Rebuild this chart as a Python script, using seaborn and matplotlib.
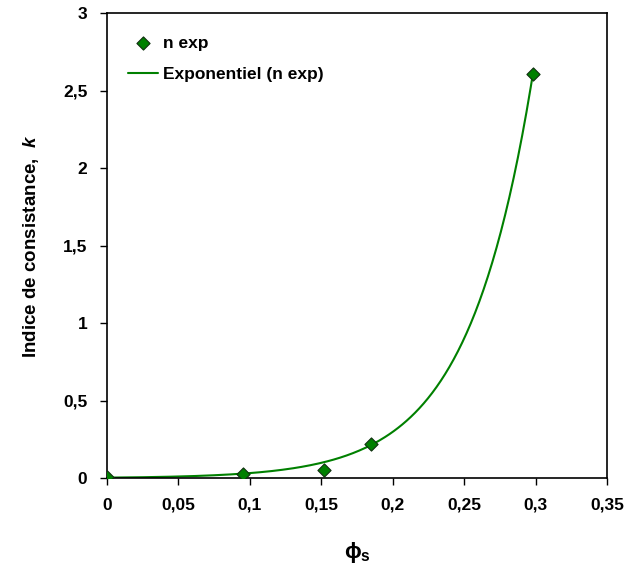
import numpy as np
import pandas as pd
import matplotlib
matplotlib.use("Agg")
import matplotlib.pyplot as plt
import seaborn as sns
from matplotlib.ticker import FuncFormatter

# measured points (phi_s, k)
phi_s = [0.0, 0.095, 0.152, 0.185, 0.298]
k_exp = [0.005, 0.025, 0.055, 0.22, 2.61]

# exponential trendline: k = a * exp(b * phi)
fit_a = 0.0036
fit_b = 22.1

x_ticks = [0, 0.05, 0.1, 0.15, 0.2, 0.25, 0.3, 0.35]
y_ticks = [0, 0.5, 1, 1.5, 2, 2.5, 3]

sns.set_style("ticks")
plt.rcParams['font.family'] = ['Liberation Sans', 'DejaVu Sans']
plt.rcParams['text.color'] = 'black'
plt.rcParams['axes.labelcolor'] = 'black'
plt.rcParams['xtick.color'] = 'black'
plt.rcParams['ytick.color'] = 'black'
plt.rcParams['mathtext.fontset'] = 'custom'
plt.rcParams['mathtext.rm'] = 'Liberation Sans'
plt.rcParams['mathtext.bf'] = 'Liberation Sans:bold'
plt.rcParams['mathtext.it'] = 'Liberation Sans:italic'
plt.rcParams['mathtext.bfit'] = 'Liberation Sans:bold:italic'

df = pd.DataFrame({'phi': phi_s, 'k': k_exp})
x_fit = np.linspace(min(phi_s), max(phi_s), 200)
fit_df = pd.DataFrame({'phi': x_fit, 'k': fit_a * np.exp(fit_b * x_fit)})

fig = plt.figure(figsize=(6.28, 5.72), dpi=100)
ax = fig.add_axes([0.170, 0.164, 0.797, 0.813])

sns.lineplot(data=fit_df, x='phi', y='k', ax=ax, color='#008000', linewidth=1.5,
             label='Exponentiel (n exp)')
sns.scatterplot(data=df, x='phi', y='k', ax=ax, marker='D', s=45, color='#008000',
                edgecolor='#103010', linewidth=0.8, label='n exp', zorder=3)

ax.set_xlim(0, 0.35)
ax.set_ylim(0, 3)
ax.set_xticks(x_ticks)
ax.set_yticks(y_ticks)
fmt = FuncFormatter(lambda v, p: ('%g' % round(v, 3)).replace('.', ','))
ax.xaxis.set_major_formatter(fmt)
ax.yaxis.set_major_formatter(fmt)
ax.tick_params(axis='both', labelsize=12.5, length=5, width=1, color='black',
               labelcolor='black', pad=9)
for lab in ax.get_xticklabels() + ax.get_yticklabels():
    lab.set_fontweight('bold')
for sp in ax.spines.values():
    sp.set_visible(True)
    sp.set_linewidth(1.2)
    sp.set_color('black')

ax.set_xlabel(r'$\mathbf{\phi_s}$', fontsize=16, labelpad=20, color='black')
ax.set_ylabel(r'Indice de consistance,  $\mathbfit{k}$', fontsize=13.5,
              fontweight='bold', labelpad=16, color='black')

handles, labels = ax.get_legend_handles_labels()
order = [labels.index('n exp'), labels.index('Exponentiel (n exp)')]
leg = ax.legend([handles[i] for i in order], [labels[i] for i in order],
                loc='upper left', bbox_to_anchor=(0.012, 0.985), frameon=False,
                prop={'weight': 'bold', 'size': 12.5}, handlelength=1.7,
                handletextpad=0.3, labelspacing=0.9)
for t in leg.get_texts():
    t.set_color('black')

fig.savefig('out.png', dpi=100)
